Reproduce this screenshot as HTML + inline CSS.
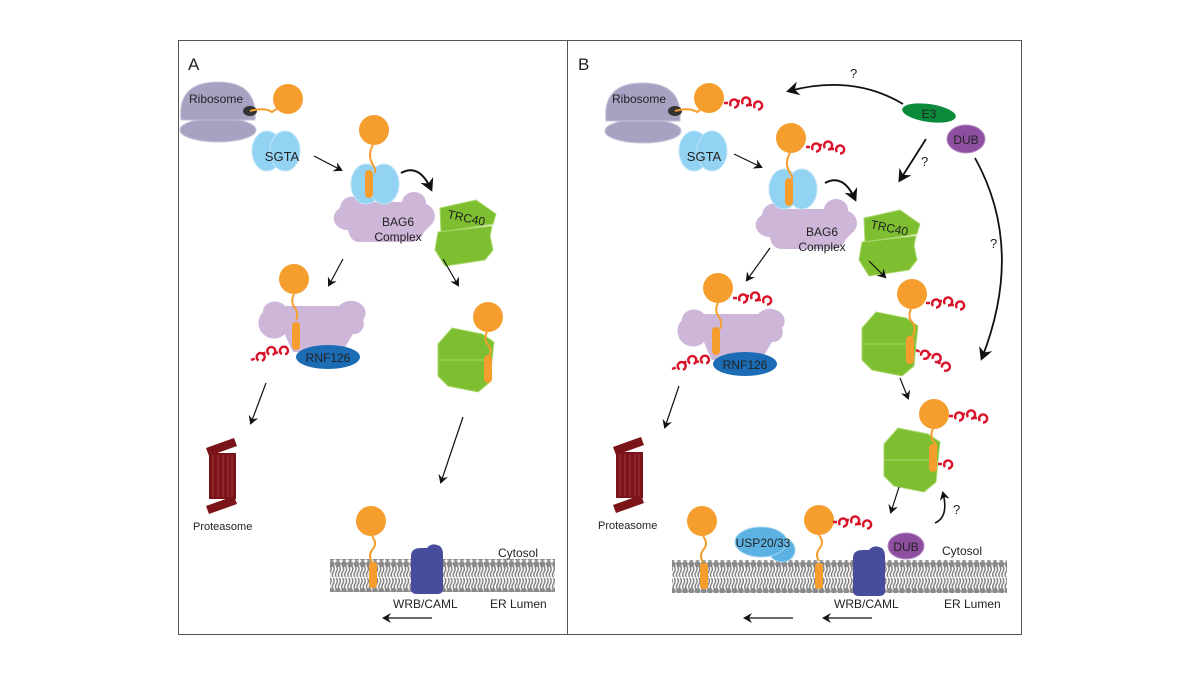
<!DOCTYPE html>
<html><head><meta charset="utf-8"><style>
html,body{margin:0;padding:0;background:#fff}
svg{display:block}
text{font-family:"Liberation Sans",sans-serif;fill:#222}
</style></head><body>
<svg width="1200" height="675" viewBox="0 0 1200 675" xmlns="http://www.w3.org/2000/svg">
<defs>
<marker id="ah" markerWidth="10" markerHeight="10" refX="7" refY="5" orient="auto" markerUnits="userSpaceOnUse">
<path d="M0,0 L9,5 L0,10 L3,5 Z" fill="#111"/></marker>
<marker id="ahb" markerWidth="14" markerHeight="14" refX="10" refY="7" orient="auto" markerUnits="userSpaceOnUse">
<path d="M0,0 L13,7 L0,14 L4,7 Z" fill="#111"/></marker>
<pattern id="lip" x="0" y="0" width="6.2" height="33" patternUnits="userSpaceOnUse">
<ellipse cx="3.1" cy="3" rx="3" ry="3" fill="#8a8a8a"/>
<path d="M1.6,5 q2,3 0,6 q-2,3 0,5 M4.6,5 q2,3 0,6 q-2,3 0,5" stroke="#7c7c7c" stroke-width="1.4" fill="none"/>
<path d="M1.6,17 q2,3 0,6 q-2,3 0,5 M4.6,17 q2,3 0,6 q-2,3 0,5" stroke="#7c7c7c" stroke-width="1.4" fill="none"/>
<ellipse cx="3.1" cy="30" rx="3" ry="3" fill="#8a8a8a"/>
</pattern>
<g id="u1"><path d="M0,0 l4,0 M7,3 a4,4 0 1 1 3,1.5" stroke="#d9142a" stroke-width="2.4" fill="none"/></g>
<g id="ub">
<use href="#u1" x="0" y="0"/><use href="#u1" x="12" y="-2"/><use href="#u1" x="24" y="2"/>
</g>
<g id="sgta">
<ellipse cx="-9" cy="0" rx="15" ry="20" fill="#92d2f3" stroke="#bfe4f8" stroke-width="1"/>
<ellipse cx="9" cy="0" rx="15" ry="20" fill="#92d2f3" stroke="#bfe4f8" stroke-width="1"/>
</g>
<g id="bag6">
<path d="M-50,-10 a12,12 0 0 1 22,-6 l40,0 a12,11 0 0 1 24,2 a14,13 0 0 1 4,22 l-6,6 q-4,10 -14,10 l-50,0 q-10,0 -12,-12 a14,12 0 0 1 -8,-22 Z" fill="#cdb6d8"/>
</g>
<g id="trc">
<path d="M-26,-20 l36,-8 l20,14 l-3,10 l-52,8 Z" fill="#7dbf30" stroke="#a9d86a" stroke-width="1"/>
<path d="M-28,4 l54,-6 l-2,10 l3,14 l-8,10 l-40,6 l-10,-16 Z" fill="#7dbf30" stroke="#a9d86a" stroke-width="1"/>
</g>
<g id="trcv">
<path d="M-28,-12 l14,-16 l30,6 l12,8 l-2,18 l-54,2 Z" fill="#7dbf30" stroke="#a9d86a" stroke-width="1"/>
<path d="M-28,4 l54,0 l-2,22 l-12,10 l-30,-6 l-10,-10 Z" fill="#7dbf30" stroke="#a9d86a" stroke-width="1"/>
</g>
<g id="rod"><rect x="-4" y="0" width="8" height="28" rx="4" fill="#f59e2e"/></g>
<g id="ribo">
<ellipse cx="0" cy="20" rx="38" ry="12" fill="#a7a2c2" stroke="#c6c3d8"/>
<path d="M-37,10 q-4,-38 37,-38 q40,0 37,38 Z" fill="#a7a2c2" stroke="#c6c3d8"/>
</g>
</defs>

<rect x="178.5" y="40.5" width="389" height="594" fill="none" stroke="#555" stroke-width="1"/>
<rect x="567.5" y="40.5" width="454" height="594" fill="none" stroke="#555" stroke-width="1"/>

<!-- ================= PANEL A ================= -->
<text x="188" y="70" font-size="17">A</text>
<use href="#ribo" x="218" y="110"/>
<text x="189" y="103" font-size="12">Ribosome</text>
<ellipse cx="250" cy="111" rx="7" ry="5" fill="#333"/>
<path d="M250,111 q14,-4 22,1 q6,-4 10,-7" stroke="#f59e2e" stroke-width="2" fill="none"/>
<circle cx="288" cy="99" r="15" fill="#f59e2e"/>
<use href="#sgta" x="276" y="151"/>
<text x="282" y="161" font-size="13" text-anchor="middle">SGTA</text>
<line x1="314" y1="156" x2="341" y2="170" stroke="#111" stroke-width="1.2" marker-end="url(#ah)"/>
<use href="#bag6" x="390" y="218"/>
<use href="#sgta" x="375" y="184"/>
<circle cx="374" cy="130" r="15" fill="#f59e2e"/>
<path d="M373,145 q-6,10 0,20 q3,4 2,8" stroke="#f59e2e" stroke-width="2" fill="none"/>
<use href="#rod" x="369" y="170"/>
<text x="398" y="226" font-size="12" text-anchor="middle">BAG6</text>
<text x="398" y="241" font-size="12" text-anchor="middle">Complex</text>
<use href="#trc" x="466" y="228"/>
<text x="447" y="218" font-size="12" transform="rotate(12 447 218)">TRC40</text>
<path d="M401,173 q18,-10 30,16" stroke="#111" stroke-width="2" fill="none" marker-end="url(#ahb)"/>
<line x1="343" y1="259" x2="329" y2="285" stroke="#111" stroke-width="1.2" marker-end="url(#ah)"/>
<line x1="443" y1="259" x2="458" y2="285" stroke="#111" stroke-width="1.2" marker-end="url(#ah)"/>
<path d="M263,312 a12,10 0 0 1 22,-6 l54,0 a12,10 0 0 1 24,14 a10,10 0 0 1 -10,14 l-6,10 q-4,8 -14,8 l-40,0 q-6,-12 -8,-18 a12,12 0 0 1 -22,-22 Z" fill="#cdb6d8"/>
<circle cx="294" cy="279" r="15" fill="#f59e2e"/>
<path d="M294,294 q-4,8 1,14 q4,6 1,12" stroke="#f59e2e" stroke-width="2" fill="none"/>
<use href="#rod" x="296" y="322"/>
<ellipse cx="328" cy="357" rx="32" ry="12" fill="#1c6bb5"/>
<text x="328" y="362" font-size="12" text-anchor="middle">RNF126</text>
<use href="#ub" x="251" y="360" transform="rotate(-20 251 360)"/>
<line x1="266" y1="383" x2="251" y2="423" stroke="#111" stroke-width="1.2" marker-end="url(#ah)"/>
<g>
<rect x="209" y="453" width="27" height="46" fill="#7a1418"/>
<path d="M213,455 v42 M218,455 v42 M223,455 v42 M228,455 v42 M232,455 v42" stroke="#a0383c" stroke-width="1"/>
<path d="M206,448 l28,-10 l3,8 l-28,10 Z" fill="#7a1418"/>
<path d="M206,506 l28,-10 l3,8 l-28,10 Z" fill="#7a1418"/>
</g>
<text x="193" y="530" font-size="11">Proteasome</text>
<use href="#trcv" x="466" y="356"/>
<circle cx="488" cy="317" r="15" fill="#f59e2e"/>
<path d="M487,332 q-4,8 2,14 q3,5 0,10" stroke="#f59e2e" stroke-width="2" fill="none"/>
<use href="#rod" x="488" y="355"/>
<line x1="463" y1="417" x2="441" y2="482" stroke="#111" stroke-width="1.2" marker-end="url(#ah)"/>
<rect x="330" y="559" width="225" height="33" fill="url(#lip)"/>
<circle cx="371" cy="521" r="15" fill="#f59e2e"/>
<path d="M372,536 q6,8 0,14 q-4,6 0,12" stroke="#f59e2e" stroke-width="2" fill="none"/>
<rect x="369" y="562" width="8" height="26" rx="3" fill="#f59e2e"/>
<path d="M411,556 q0,-8 10,-8 l6,0 q4,-5 10,-3 q6,1 6,10 v34 q0,5 -6,5 h-20 q-6,0 -6,-5 Z" fill="#474c9c"/>
<text x="498" y="557" font-size="12">Cytosol</text>
<text x="393" y="608" font-size="12">WRB/CAML</text>
<text x="490" y="608" font-size="12">ER Lumen</text>
<line x1="432" y1="618" x2="384" y2="618" stroke="#111" stroke-width="1.2" marker-end="url(#ah)"/>

<!-- ================= PANEL B ================= -->
<text x="578" y="70" font-size="17">B</text>
<use href="#ribo" x="643" y="111"/>
<text x="612" y="103" font-size="12">Ribosome</text>
<ellipse cx="675" cy="111" rx="7" ry="5" fill="#333"/>
<path d="M675,111 q14,-4 22,1 q6,-4 10,-6" stroke="#f59e2e" stroke-width="2" fill="none"/>
<circle cx="709" cy="98" r="15" fill="#f59e2e"/>
<use href="#ub" x="724" y="103"/>
<use href="#sgta" x="703" y="151"/>
<text x="704" y="161" font-size="13" text-anchor="middle">SGTA</text>
<line x1="734" y1="154" x2="761" y2="167" stroke="#111" stroke-width="1.2" marker-end="url(#ah)"/>
<use href="#bag6" x="812" y="225"/>
<use href="#sgta" x="793" y="189"/>
<circle cx="791" cy="138" r="15" fill="#f59e2e"/>
<use href="#ub" x="806" y="147"/>
<path d="M790,153 q-6,10 0,20 q3,4 2,6" stroke="#f59e2e" stroke-width="2" fill="none"/>
<use href="#rod" x="789" y="178"/>
<text x="822" y="236" font-size="12" text-anchor="middle">BAG6</text>
<text x="822" y="251" font-size="12" text-anchor="middle">Complex</text>
<use href="#trc" x="890" y="238"/>
<text x="870" y="228" font-size="12" transform="rotate(12 870 228)">TRC40</text>
<path d="M825,183 q18,-10 30,16" stroke="#111" stroke-width="2" fill="none" marker-end="url(#ahb)"/>
<ellipse cx="929" cy="113" rx="27" ry="9" fill="#0c8a3c" transform="rotate(8 929 113)"/>
<text x="929" y="118" font-size="12" text-anchor="middle">E3</text>
<ellipse cx="966" cy="139" rx="19" ry="14" fill="#8e4fa0" stroke="#b88cc4"/>
<text x="966" y="144" font-size="12" text-anchor="middle">DUB</text>
<path d="M903,104 q-50,-30 -114,-13" stroke="#111" stroke-width="1.8" fill="none" marker-end="url(#ahb)"/>
<text x="850" y="78" font-size="13">?</text>
<line x1="926" y1="139" x2="900" y2="180" stroke="#111" stroke-width="1.8" marker-end="url(#ahb)"/>
<text x="921" y="166" font-size="13">?</text>
<path d="M975,158 q50,90 7,200" stroke="#111" stroke-width="1.8" fill="none" marker-end="url(#ahb)"/>
<text x="990" y="248" font-size="13">?</text>
<line x1="770" y1="248" x2="747" y2="280" stroke="#111" stroke-width="1.2" marker-end="url(#ah)"/>
<line x1="869" y1="261" x2="885" y2="277" stroke="#111" stroke-width="1.2" marker-end="url(#ah)"/>
<path d="M682,320 a12,10 0 0 1 22,-6 l54,0 a12,10 0 0 1 24,14 a10,10 0 0 1 -10,14 l-6,10 q-4,8 -14,8 l-40,0 q-6,-12 -8,-18 a12,12 0 0 1 -22,-22 Z" fill="#cdb6d8"/>
<circle cx="718" cy="288" r="15" fill="#f59e2e"/>
<use href="#ub" x="733" y="298"/>
<path d="M718,303 q-4,8 1,14 q4,6 1,12" stroke="#f59e2e" stroke-width="2" fill="none"/>
<use href="#rod" x="716" y="327"/>
<ellipse cx="745" cy="364" rx="32" ry="12" fill="#1c6bb5"/>
<text x="745" y="369" font-size="12" text-anchor="middle">RNF126</text>
<use href="#ub" x="672" y="369" transform="rotate(-20 672 369)"/>
<line x1="679" y1="386" x2="665" y2="427" stroke="#111" stroke-width="1.2" marker-end="url(#ah)"/>
<g>
<rect x="616" y="452" width="27" height="46" fill="#7a1418"/>
<path d="M620,454 v42 M625,454 v42 M630,454 v42 M635,454 v42 M639,454 v42" stroke="#a0383c" stroke-width="1"/>
<path d="M613,447 l28,-10 l3,8 l-28,10 Z" fill="#7a1418"/>
<path d="M613,505 l28,-10 l3,8 l-28,10 Z" fill="#7a1418"/>
</g>
<text x="598" y="529" font-size="11">Proteasome</text>
<use href="#trcv" x="890" y="340"/>
<circle cx="912" cy="294" r="15" fill="#f59e2e"/>
<use href="#ub" x="926" y="303"/>
<path d="M911,309 q-4,8 2,14 q3,5 0,14" stroke="#f59e2e" stroke-width="2" fill="none"/>
<use href="#rod" x="910" y="336"/>
<use href="#ub" x="916" y="350" transform="rotate(25 916 350)"/>
<line x1="900" y1="378" x2="908" y2="398" stroke="#111" stroke-width="1.2" marker-end="url(#ah)"/>
<use href="#trcv" x="912" y="456"/>
<circle cx="934" cy="414" r="15" fill="#f59e2e"/>
<use href="#ub" x="949" y="416"/>
<path d="M933,429 q-4,8 2,14 q3,5 0,10" stroke="#f59e2e" stroke-width="2" fill="none"/>
<use href="#rod" x="933" y="444"/>
<use href="#u1" x="938" y="464"/>
<line x1="899" y1="487" x2="891" y2="512" stroke="#111" stroke-width="1.2" marker-end="url(#ah)"/>
<path d="M935,523 q14,-6 8,-30" stroke="#111" stroke-width="1.6" fill="none" marker-end="url(#ah)"/>
<text x="953" y="514" font-size="13">?</text>
<rect x="672" y="560" width="335" height="33" fill="url(#lip)"/>
<circle cx="702" cy="521" r="15" fill="#f59e2e"/>
<path d="M703,536 q6,8 0,14 q-4,6 0,12" stroke="#f59e2e" stroke-width="2" fill="none"/>
<rect x="700" y="563" width="8" height="26" rx="3" fill="#f59e2e"/>
<ellipse cx="782" cy="550" rx="13" ry="12" fill="#5cb3e3" stroke="#9fd3f0"/>
<ellipse cx="761" cy="542" rx="26" ry="15" fill="#5cb3e3" stroke="#9fd3f0"/>
<text x="763" y="547" font-size="12" text-anchor="middle">USP20/33</text>
<circle cx="819" cy="520" r="15" fill="#f59e2e"/>
<use href="#ub" x="833" y="522"/>
<path d="M819,535 q6,8 0,14 q-4,6 0,12" stroke="#f59e2e" stroke-width="2" fill="none"/>
<rect x="815" y="563" width="8" height="26" rx="3" fill="#f59e2e"/>
<path d="M853,558 q0,-8 10,-8 l6,0 q4,-5 10,-3 q6,1 6,10 v34 q0,5 -6,5 h-20 q-6,0 -6,-5 Z" fill="#474c9c"/>
<ellipse cx="906" cy="546" rx="18" ry="13" fill="#8e4fa0" stroke="#b88cc4"/>
<text x="906" y="551" font-size="12" text-anchor="middle">DUB</text>
<text x="942" y="555" font-size="12">Cytosol</text>
<text x="834" y="608" font-size="12">WRB/CAML</text>
<text x="944" y="608" font-size="12">ER Lumen</text>
<line x1="872" y1="618" x2="824" y2="618" stroke="#111" stroke-width="1.2" marker-end="url(#ah)"/>
<line x1="793" y1="618" x2="745" y2="618" stroke="#111" stroke-width="1.2" marker-end="url(#ah)"/>
</svg>
</body></html>
